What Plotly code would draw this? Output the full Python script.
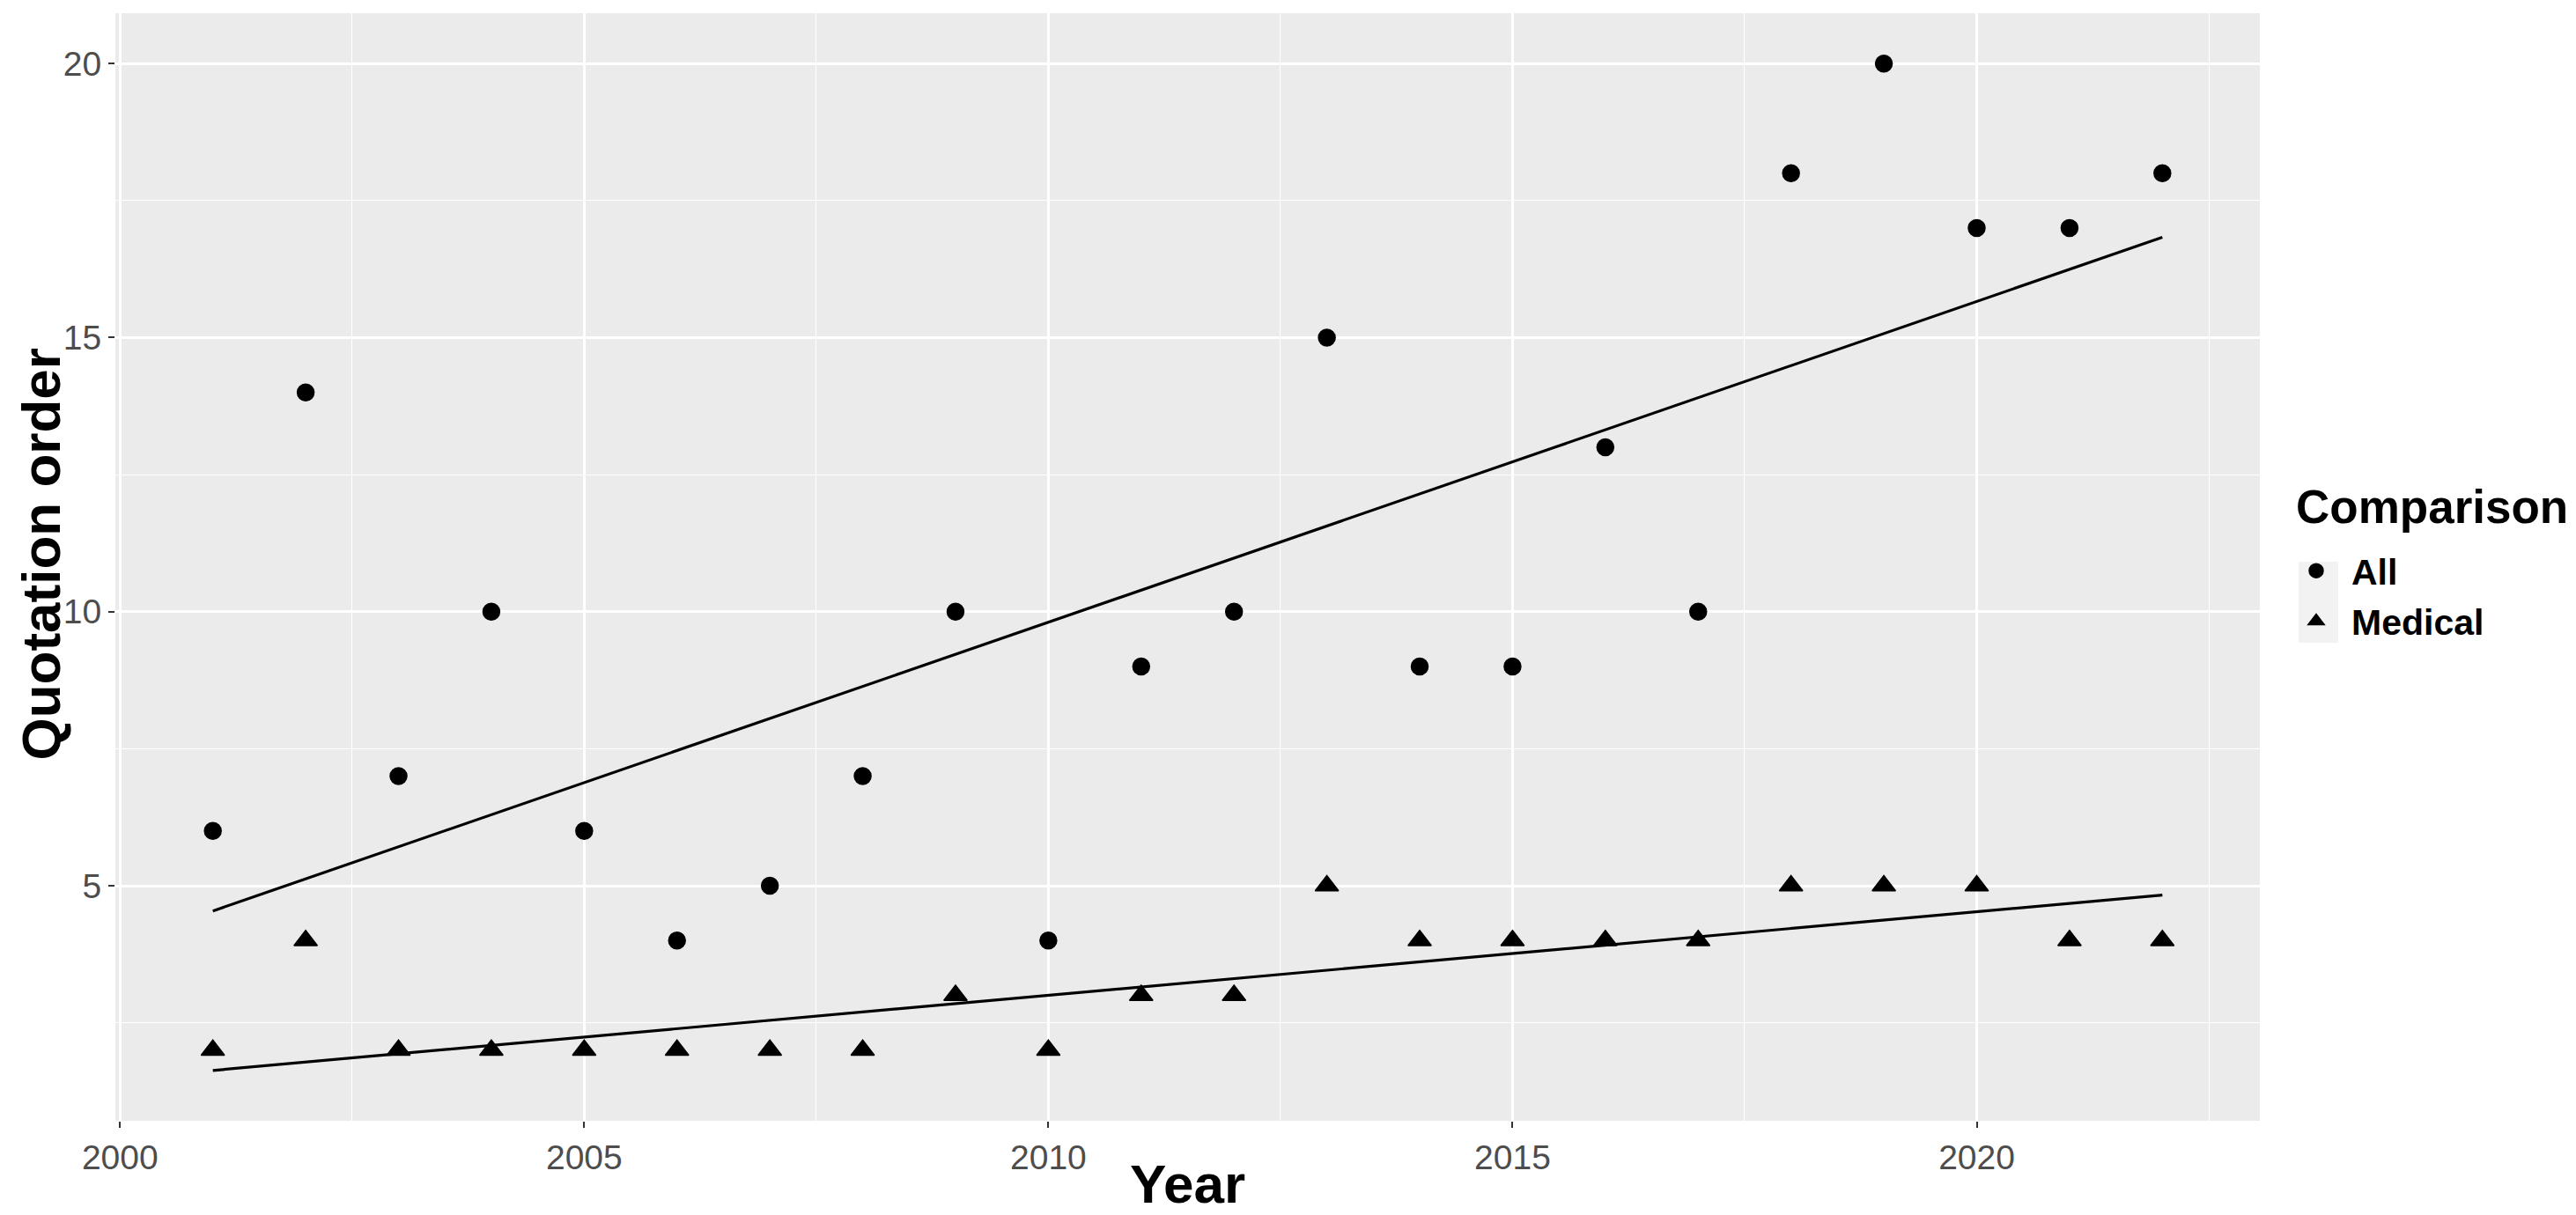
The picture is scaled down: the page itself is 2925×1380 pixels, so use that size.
import plotly.graph_objects as go

# ---- data ----
years = [2001, 2002, 2003, 2004, 2005, 2006, 2007, 2008, 2009, 2010, 2011,
         2012, 2013, 2014, 2015, 2016, 2017, 2018, 2019, 2020, 2021, 2022]
all_values = [6, 14, 7, 10, 6, 4, 5, 7, 10, 4, 9,
              10, 15, 9, 9, 13, 10, 18, 20, 17, 17, 18]
medical_values = [2, 4, 2, 2, 2, 2, 2, 2, 3, 2, 3,
                  3, 5, 4, 4, 4, 4, 5, 5, 5, 4, 4]
# linear trend lines (values at the first / last year)
trend_years = [2001, 2022]
trend_all = [4.54, 16.83]
trend_medical = [1.63, 4.83]
series_names = ["All", "Medical"]
x_ticks = [2000, 2005, 2010, 2015, 2020]
y_ticks = [5, 10, 15, 20]

FONT = "Liberation Sans, Arial, Helvetica, sans-serif"

fig = go.Figure()

symbols = {"All": "circle", "Medical": "triangle-up"}
sizes = {"All": 19, "Medical": 23}
lws = {"All": 1.5, "Medical": 1.5}
for name, vals in zip(series_names, [all_values, medical_values]):
    fig.add_trace(go.Scatter(
        x=years, y=vals, mode="markers", name=name,
        marker=dict(symbol=symbols[name], size=sizes[name], color="black",
                    line=dict(color="black", width=lws[name])),
        legendgroup=name,
    ))
for tr in [trend_all, trend_medical]:
    fig.add_trace(go.Scatter(
        x=trend_years, y=tr, mode="lines", showlegend=False,
        line=dict(color="black", width=3.2), hoverinfo="skip",
    ))

# ggplot-style expanded ranges (5% of data range, including trend lines)
xr = (min(years), max(years))
xpad = 0.05 * (xr[1] - xr[0])
yvals = all_values + medical_values + trend_all + trend_medical
yr = (min(yvals), max(yvals))
ypad = 0.05 * (yr[1] - yr[0])

L, R, T, B = 123, 2558, 7, 1265
W, H = 2925, 1380

def px_x(p):
    return (p - L) / (R - L)

def px_y(p):
    return (B - p) / (B - T)

# legend key background (ggplot grey95)
fig.add_shape(type="rect", xref="paper", yref="paper",
              x0=px_x(2602), x1=px_x(2647), y0=px_y(722), y1=px_y(630),
              fillcolor="#F2F2F2", line=dict(width=0), layer="below")

axis_common = dict(
    showgrid=True, gridcolor="white", gridwidth=2.6,
    zeroline=False, showline=False,
    ticks="outside", ticklen=7, tickwidth=2, tickcolor="#333333",
    tickfont=dict(family=FONT, size=39, color="#4D4D4D"),
    minor=dict(showgrid=True, gridcolor="white", gridwidth=1.3, dtick=2.5),
)

title_font = dict(family=FONT, size=62, color="black", weight="bold")

fig.update_layout(
    width=W, height=H,
    margin=dict(l=L, r=W - R, t=T, b=H - B),
    paper_bgcolor="white", plot_bgcolor="#EBEBEB",
    font=dict(family=FONT, color="black"),
    xaxis=dict(range=[xr[0] - xpad, xr[1] + xpad], tickvals=x_ticks, **axis_common),
    yaxis=dict(range=[yr[0] - ypad, yr[1] + ypad], tickvals=y_ticks, **axis_common),
    legend=dict(
        font=dict(family=FONT, size=41, color="black", weight="bold"),
        x=px_x(2582), xanchor="left", y=px_y(669), yanchor="middle",
        bgcolor="rgba(0,0,0,0)", itemwidth=70, tracegroupgap=1,
    ),
    annotations=[
        dict(text="Year", xref="paper", yref="paper", x=0.5, y=px_y(1336),
             xanchor="center", yanchor="middle", showarrow=False, font=title_font),
        dict(text="Quotation order", xref="paper", yref="paper", x=px_x(1), y=px_y(622),
             xanchor="left", yanchor="middle", showarrow=False, textangle=-90,
             font=title_font),
        dict(text="Comparison", xref="paper", yref="paper", x=px_x(2597), y=px_y(567),
             xanchor="left", yanchor="middle", showarrow=False,
             font=dict(family=FONT, size=53, color="black", weight="bold")),
    ],
)

fig.write_html("out.html")
